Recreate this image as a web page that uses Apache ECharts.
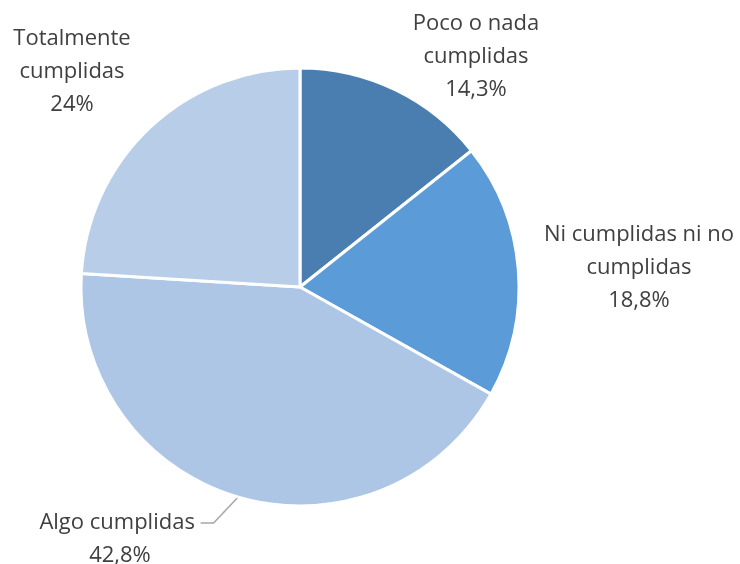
<!DOCTYPE html>
<html>
<head>
<meta charset="utf-8">
<style>
  html, body { margin: 0; padding: 0; background: #fff; }
  #chart { width: 740px; height: 564px; }
</style>
<script src="https://cdn.jsdelivr.net/npm/echarts@6/dist/echarts.min.js"></script>
</head>
<body>
<div id="chart"></div>
<script>
const categories = ['Poco o nada\ncumplidas', 'Ni cumplidas ni no\ncumplidas', 'Algo cumplidas', 'Totalmente\ncumplidas']
const values = [14.3, 18.8, 42.8, 24]
const valueLabels = ['14,3%', '18,8%', '42,8%', '24%']
const colors = ['#4a7eb0', '#5b9bd7', '#aec6e6', '#b8cde8']

// where each label block sits (centre x, centre y)
const labelSpots = [[476, 57], [639, 268], [120, 523], [72, 72]]

const chart = echarts.init(document.getElementById('chart'))

chart.setOption({
  animation: false,
  series: [
    {
      type: 'pie',
      center: [300, 287],
      radius: 219,
      startAngle: 90,
      clockwise: true,
      itemStyle: {
        borderColor: '#fff',
        borderWidth: 3
      },
      label: {
        show: true,
        formatter: (p) => {
          // blank first line + trailing space so the leader line meets "Algo cumplidas"
          if (p.dataIndex === 2) {
            return ' \n' + p.name + ' \n' + valueLabels[p.dataIndex]
          }
          return p.name + '\n' + valueLabels[p.dataIndex]
        },
        fontFamily: 'Open Sans',
        fontSize: 22,
        lineHeight: 33,
        color: '#404040',
        align: 'center',
        overflow: 'none'
      },
      labelLine: {
        show: false,
        length2: 13,
        lineStyle: {
          color: '#a6a6a6',
          width: 1.5
        }
      },
      labelLayout: (params) => {
        const spot = labelSpots[params.dataIndex]
        return {
          x: spot[0],
          y: spot[1],
          align: 'center',
          verticalAlign: 'middle'
        }
      },
      data: categories.map((name, i) => ({
        name: name,
        value: values[i],
        itemStyle: { color: colors[i] },
        labelLine: { show: i === 2 }
      }))
    }
  ]
})
</script>
</body>
</html>
